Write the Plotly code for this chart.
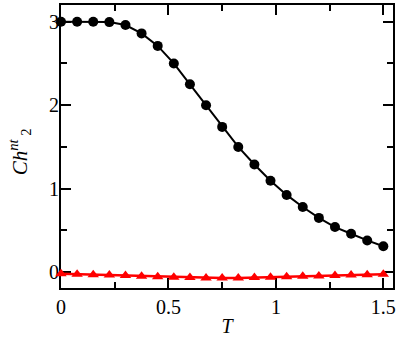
import plotly.graph_objects as go

T = [0.0, 0.075, 0.15, 0.225, 0.3, 0.375, 0.45, 0.525, 0.6, 0.675, 0.75,
     0.825, 0.9, 0.975, 1.05, 1.125, 1.2, 1.275, 1.35, 1.425, 1.5]
ch_black = [3.0, 3.0, 3.0, 2.995, 2.96, 2.86, 2.71, 2.50, 2.25, 2.0, 1.74,
            1.50, 1.29, 1.095, 0.925, 0.78, 0.65, 0.54, 0.46, 0.38, 0.31]
ch_red = [-0.02, -0.025, -0.03, -0.035, -0.04, -0.05, -0.055, -0.06, -0.065, -0.07, -0.07,
          -0.07, -0.065, -0.06, -0.055, -0.05, -0.045, -0.04, -0.035, -0.03, -0.025]
x_ticks = [0, 0.5, 1, 1.5]
x_ticklabels = ["0", "0.5", "1", "1.5"]
y_ticks = [0, 1, 2, 3]
y_ticklabels = ["0", "1", "2", "3"]

fig = go.Figure()
fig.add_trace(go.Scatter(x=T, y=ch_red, mode="lines+markers", cliponaxis=False,
                         line=dict(color="#ff0000", width=2.5),
                         marker=dict(symbol="triangle-up", size=10, color="#ff0000"),
                         showlegend=False))
fig.add_trace(go.Scatter(x=T, y=ch_black, mode="lines+markers", cliponaxis=False,
                         line=dict(color="black", width=2),
                         marker=dict(symbol="circle", size=10, color="black"),
                         showlegend=False))

font = dict(family="Liberation Serif", size=20, color="black")
fig.update_layout(
    width=399, height=340,
    margin=dict(l=61, r=5, t=3, b=52),
    paper_bgcolor="white", plot_bgcolor="white",
    font=font,
)
axis_common = dict(showgrid=False, zeroline=False, showline=True, linecolor="black", linewidth=2,
                   mirror="allticks", ticks="inside", ticklen=10, tickwidth=2, tickcolor="black",
                   tickfont=font, layer="below traces")
fig.update_xaxes(range=[0, 1.545], tickvals=x_ticks, ticktext=x_ticklabels,
                 minor=dict(dtick=0.25, tick0=0, ticks="inside", ticklen=6, tickwidth=2, tickcolor="black"),
                 title=dict(text="<i>T</i>", font=dict(family="Liberation Serif", size=20), standoff=2),
                 **axis_common)
fig.update_yaxes(range=[-0.19, 3.2], tickvals=y_ticks, ticktext=y_ticklabels,
                 minor=dict(dtick=0.5, tick0=0, ticks="inside", ticklen=6, tickwidth=2, tickcolor="black"),
                 ticklabelstandoff=-4,
                 **axis_common)
fig.add_annotation(text="<i>Ch</i><sup><i>nt</i></sup><sub> 2</sub>", textangle=-90,
                   xref="paper", yref="paper", x=-0.126, y=0.48,
                   xanchor="center", yanchor="middle", showarrow=False,
                   font=dict(family="Liberation Serif", size=21, color="black"))
fig.write_html("out.html", config={"displayModeBar": False},
               post_script="document.body.style.margin='0';")
